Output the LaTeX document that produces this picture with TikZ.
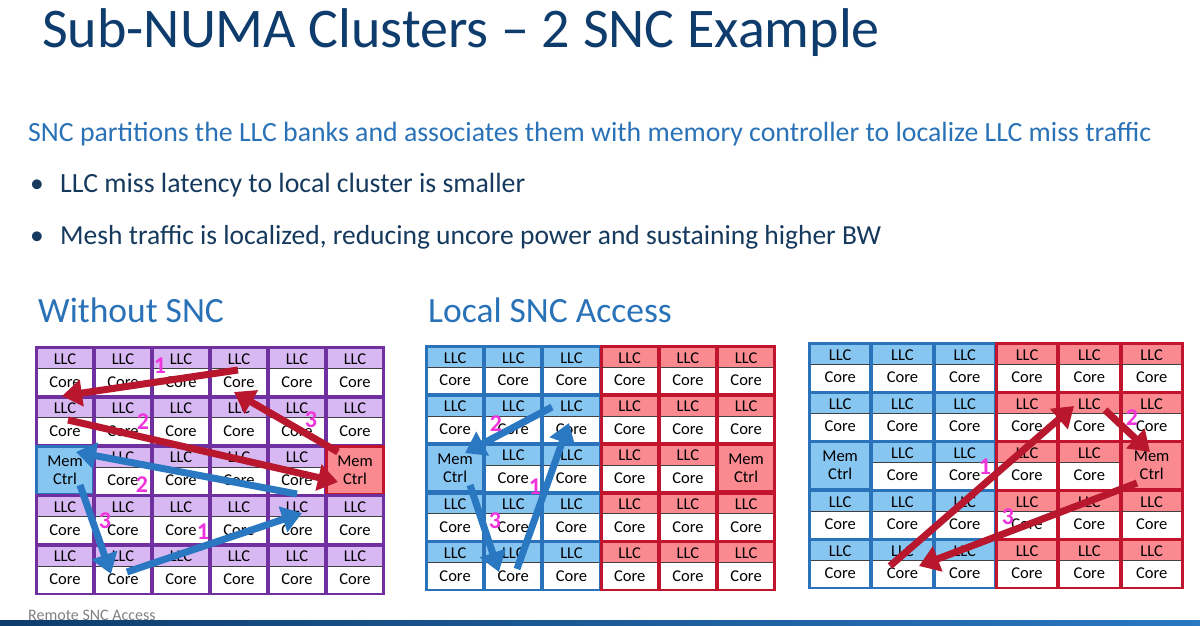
\documentclass[tikz,border=0pt]{standalone}
\usepackage{fontspec}
\setmainfont{Carlito}
\usetikzlibrary{arrows.meta}
\tikzset{>=latex}
\definecolor{purpF}{HTML}{7030A0}
\definecolor{purpL}{HTML}{D8B8F2}
\definecolor{blueF}{HTML}{2A72BA}
\definecolor{blueL}{HTML}{88C6F2}
\definecolor{redF}{HTML}{C2142D}
\definecolor{redL}{HTML}{FA8A90}
\definecolor{redA}{HTML}{B8172D}
\definecolor{blueA}{HTML}{2A78C2}
\definecolor{hop}{HTML}{F034DC}
\definecolor{navy}{HTML}{0E3C6C}
\definecolor{deep}{HTML}{163A5E}
\definecolor{sky}{HTML}{2A72B8}

% one 6x5 mesh: #1 name, #2/#3 top left, #4/#5 tile pitch, #6/#7 colour set left/right
\newcommand{\meshgrid}[7]{%
  \foreach \c in {1,...,6}{%
    \foreach \r in {1,...,5}{%
      \pgfmathsetmacro{\xa}{#2+(\c-1)*#4}%
      \pgfmathsetmacro{\ya}{#3+(\r-1)*#5}%
      \pgfmathtruncatemacro{\ismem}{(\r==3)&&((\c==1)||(\c==6))}%
      \ifnum\c<4 \def\sch{#6}\else\def\sch{#7}\fi
      \ifnum\ismem=1 \ifnum\c=1 \def\sch{blue}\else\def\sch{red}\fi\fi
      \fill[\sch F] (\xa-1,\ya-1) rectangle ++(#4+2,#5+2);
      \ifnum\ismem=1
        \node[mem, fill=\sch L, minimum width=#4-4, minimum height=#5-4]
          (#1m\c) at (\xa+#4/2,\ya+#5/2) {Mem\\Ctrl};
      \else
        \node[llc, fill=\sch L, minimum width=#4-4, anchor=north]
          (#1l\c\r) at (\xa+#4/2,\ya+2) {LLC};
        \node[core, minimum width=#4-4, minimum height=#5-23, anchor=north]
          (#1c\c\r) at (#1l\c\r.south) {Core};
        \draw[sep] (#1c\c\r.north west) -- (#1c\c\r.north east);
      \fi
    }}}

\begin{document}
\begin{tikzpicture}[x=1pt, y=-1pt,
    llc/.style={inner sep=0, minimum height=19, font=\fontsize{16.5}{17}\selectfont},
    core/.style={fill=white, inner sep=0, font=\fontsize{16.5}{17}\selectfont},
    mem/.style={inner sep=0, align=center, font=\fontsize{16.5}{18}\selectfont},
    sep/.style={black!75, line width=0.8},
    redarr/.style={redA, line width=7, -{Triangle[length=20pt,width=26pt]}},
    bluarr/.style={blueA, line width=7, -{Triangle[length=20pt,width=26pt]}},
    hopnum/.style={text=hop, inner sep=0, font=\fontsize{24}{24}\selectfont\bfseries},
    txt/.style={anchor=base west, inner sep=0}]

\fill[white] (0,0) rectangle (1200,625);
\useasboundingbox (0,0) rectangle (1200,625);

% heading and bullets
\node[txt, text=navy, font=\fontsize{56}{64}\selectfont] (title) at (42,47) {Sub-NUMA Clusters – 2 SNC Example};
\node[txt, text=sky, font=\fontsize{27.8}{32}\selectfont] (intro) at (28,141)
  {SNC partitions the LLC banks and associates them with memory controller to localize LLC miss traffic};
\node[txt, text=deep, font=\fontsize{27.5}{32}\selectfont] (dot1) at (30,192) {•};
\node[txt, text=deep, font=\fontsize{27.8}{32}\selectfont] (pt1) at (60,192) {LLC miss latency to local cluster is smaller};
\node[txt, text=deep, font=\fontsize{27.5}{32}\selectfont] (dot2) at (30,244) {•};
\node[txt, text=deep, font=\fontsize{27.5}{32}\selectfont] (pt2) at (60,244)
  {Mesh traffic is localized, reducing uncore power and sustaining higher BW};
\node[txt, text=sky, font=\fontsize{35.5}{40}\selectfont] (hdrA) at (38,322) {Without SNC};
\node[txt, text=sky, font=\fontsize{35.5}{40}\selectfont] (hdrB) at (428,322) {Local SNC Access};

% the three meshes
\meshgrid{w}{36}{347}{58}{49.4}{purp}{purp}
\meshgrid{s}{426}{346}{58.2}{48.8}{blue}{red}
\meshgrid{r}{809}{343}{62.3}{49}{blue}{red}

% without SNC
\coordinate (wa0) at (238,370); \coordinate (wa1) at (62,396);
\coordinate (wb0) at (68,420);  \coordinate (wb1) at (338,482);
\coordinate (wc0) at (338,452); \coordinate (wc1) at (234,392);
\coordinate (wd0) at (127,572); \coordinate (wd1) at (302,513);
\coordinate (we0) at (297,494); \coordinate (we1) at (76,452);
\coordinate (wf0) at (80,485);  \coordinate (wf1) at (111,574);
\draw[redarr] (wa0) -- (wa1);
\draw[redarr] (wb0) -- (wb1);
\draw[redarr] (wc0) -- (wc1);
\draw[bluarr] (wd0) -- (wd1);
\draw[bluarr] (we0) -- (we1);
\draw[bluarr] (wf0) -- (wf1);
\node[hopnum] (wn1) at (160,366) {1};
\node[hopnum] (wn2) at (143,422) {2};
\node[hopnum] (wn3) at (311,420) {3};
\node[hopnum] (wn4) at (203,532) {1};
\node[hopnum] (wn5) at (142,485) {2};
\node[hopnum] (wn6) at (105,521) {3};

% local SNC access
\coordinate (sa0) at (517,569); \coordinate (sa1) at (569,423);
\coordinate (sb0) at (552,407); \coordinate (sb1) at (465,453);
\coordinate (sc0) at (470,485); \coordinate (sc1) at (499,572);
\draw[bluarr] (sa0) -- (sa1);
\draw[bluarr] (sb0) -- (sb1);
\draw[bluarr] (sc0) -- (sc1);
\node[hopnum] (sn1) at (535,487) {1};
\node[hopnum] (sn2) at (496,424) {2};
\node[hopnum] (sn3) at (495,521) {3};

% remote SNC access
\coordinate (ra0) at (890,566);  \coordinate (ra1) at (1074,406);
\coordinate (rb0) at (1105,410); \coordinate (rb1) at (1150,452);
\coordinate (rc0) at (1137,483); \coordinate (rc1) at (919,566);
\draw[redarr] (ra0) -- (ra1);
\draw[redarr] (rb0) -- (rb1);
\draw[redarr] (rc0) -- (rc1);
\node[hopnum] (rn1) at (985,467) {1};
\node[hopnum] (rn2) at (1132,418) {2};
\node[hopnum] (rn3) at (1008,517) {3};

% footer
\node[txt, text=black!50, font=\fontsize{16}{16}\selectfont] (foot) at (28,620) {Remote SNC Access};
\shade[left color=navy, right color=blueA] (0,620) rectangle (1200,625);
\end{tikzpicture}
\end{document}
